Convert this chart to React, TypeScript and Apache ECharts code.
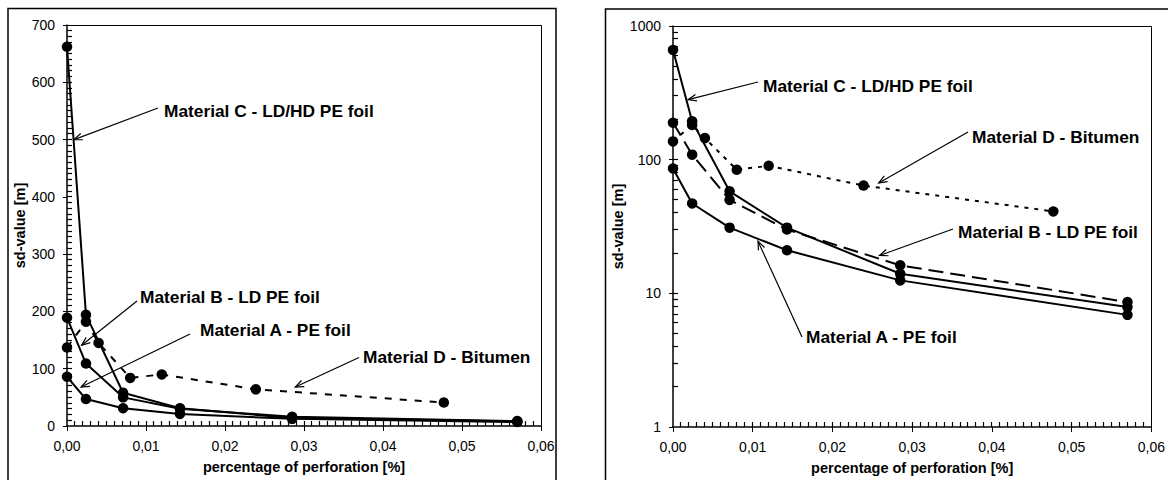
import React, { useEffect, useRef } from "react";
import * as echarts from "echarts";

// ---- data ----
const percA = [0, 0.0024, 0.0071, 0.0143, 0.0285, 0.057];
const sdA = [86, 47, 31, 21, 12.5, 6.9];
const percB = [0, 0.0024, 0.0071, 0.0143, 0.0285, 0.057];
const sdB = [189, 109, 50, 30, 16.2, 8.6];
const percC = [0, 0.0024, 0.0071, 0.0143, 0.0285, 0.057];
const sdC = [662, 194, 58, 31, 14, 7.9];
const percD = [0, 0.0024, 0.004, 0.008, 0.012, 0.0239, 0.0477];
const sdD = [137, 182, 145, 84, 90, 64, 41];

const seriesNames = [
  "Material A - PE foil",
  "Material B - LD PE foil",
  "Material C - LD/HD PE foil",
  "Material D - Bitumen",
];
const xTitle = "percentage of perforation [%]";
const yTitle = "sd-value [m]";

// axis scales
const xMin = 0, xMax = 0.06, xStep = 0.01, xMinorSplit = 10;
const linMin = 0, linMax = 700, linStep = 100, linMinorSplit = 10;
const logMin = 1, logMax = 1000;
const logMinorTicks = [2, 3, 4, 5, 6, 7, 8, 9, 10, 20, 30, 40, 50, 60, 70, 80, 90, 100, 200, 300, 400, 500, 600, 700, 800, 900];

// annotation tips in data coordinates [x, y] for each chart (left linear, right log)
const tipsLin = [
  [0.00178, 68],
  [0.00186, 141],
  [0.00089, 500],
  [0.0289, 68],
];
const tipsLog = [
  [0.01066, 24.5],
  [0.0259, 19.2],
  [0.0019, 281],
  [0.0258, 67],
];

const pairs = (xs: number[], ys: number[]) => xs.map((x, i) => [x, ys[i]]);

const FONT = '"Liberation Sans", Arial, Helvetica, sans-serif';
const BLACK = "#000";

export default function App() {
  const ref = useRef<HTMLDivElement>(null);

  useEffect(() => {
    if (!ref.current) return;
    const chart = echarts.init(ref.current, undefined, { renderer: "svg" });

    const fmtX = (v: number) => v.toFixed(2).replace(".", ",");
    const lbl = { color: BLACK, fontFamily: FONT, fontSize: 14 };
    const nameStyle = { color: BLACK, fontFamily: FONT, fontSize: 14.5, fontWeight: "bold" as const };
    const line = { show: true, lineStyle: { color: BLACK, width: 1.5 } };
    const tickLine = { color: BLACK, width: 1 };

    const mainX = (gi: number) => ({
      gridIndex: gi,
      type: "value",
      min: xMin,
      max: xMax,
      interval: xStep,
      position: "bottom",
      axisLine: line,
      axisTick: { show: true, inside: false, length: 5, lineStyle: tickLine },
      axisLabel: { ...lbl, margin: 13, formatter: fmtX },
      splitLine: { show: false },
      name: xTitle,
      nameLocation: "middle",
      nameGap: 33,
      nameTextStyle: nameStyle,
    });

    const series: any[] = [];
    const mk = (name: string, data: number[][], xi: number, yi: number, type: any) => ({
      name,
      type: "line",
      xAxisIndex: xi,
      yAxisIndex: yi,
      data,
      symbol: "circle",
      symbolSize: 10.5,
      clip: false,
      itemStyle: { color: BLACK },
      lineStyle: { color: BLACK, width: 2, type },
      z: 3,
    });
    // left (linear)
    series.push(mk(seriesNames[0], pairs(percA, sdA), 0, 0, "solid"));
    series.push(mk(seriesNames[1], pairs(percB, sdB), 0, 0, "solid"));
    series.push(mk(seriesNames[2], pairs(percC, sdC), 0, 0, "solid"));
    series.push(mk(seriesNames[3], pairs(percD, sdD), 0, 0, [7, 8]));
    // right (log)
    series.push(mk(seriesNames[0], pairs(percA, sdA), 1, 1, "solid"));
    series.push(mk(seriesNames[1], pairs(percB, sdB), 1, 1, [15, 7]));
    series.push(mk(seriesNames[2], pairs(percC, sdC), 1, 1, "solid"));
    series.push(mk(seriesNames[3], pairs(percD, sdD), 1, 1, [4, 6]));

    chart.setOption({
      animation: false,
      backgroundColor: "#fff",
      textStyle: { fontFamily: FONT },
      grid: [
        { left: 67, top: 25, width: 474, height: 401, show: false },
        { left: 673, top: 26, width: 480, height: 401, show: false },
      ],
      xAxis: [mainX(0), mainX(1)],
      yAxis: [
        {
          gridIndex: 0,
          type: "value",
          min: linMin,
          max: linMax,
          interval: linStep,
          position: "left",
          axisLine: line,
          axisTick: { show: true, inside: false, length: 4, lineStyle: tickLine },
          axisLabel: { ...lbl, margin: 12 },
          splitLine: { show: false },
          name: yTitle,
          nameLocation: "middle",
          nameGap: 38,
          nameTextStyle: nameStyle,
        },
        {
          gridIndex: 1,
          type: "log",
          logBase: 10,
          min: logMin,
          max: logMax,
          position: "left",
          axisLine: line,
          axisTick: { show: true, inside: false, length: 4, lineStyle: tickLine },
          axisLabel: { ...lbl, margin: 12, formatter: (v: number) => String(Math.round(v)) },
          splitLine: { show: false },
          name: yTitle,
          nameLocation: "middle",
          nameGap: 38,
          nameTextStyle: nameStyle,
        },
      ],
      series,
    });

    const graphics: any[] = [
      { type: "rect", shape: { x: 8, y: 8.5, width: 548, height: 520 }, style: { fill: "none", stroke: BLACK, lineWidth: 1.5 }, z: 10 },
      { type: "rect", shape: { x: 605.5, y: 9, width: 600, height: 520 }, style: { fill: "none", stroke: BLACK, lineWidth: 1.5 }, z: 10 },
    ];
    const px = (ai: number, pt: number[]) =>
      chart.convertToPixel({ xAxisIndex: ai, yAxisIndex: ai } as any, pt) as number[];
    const half = (v: number) => Math.round(v - 0.5) + 0.5;

    // plot-area border (top and right edges) + inside minor ticks, positioned through the axes
    const frameAndTicks = (ai: number, yLo: number, yHi: number, yMinorVals: number[]) => {
      const tl = px(ai, [xMin, yHi]);
      const br = px(ai, [xMax, yLo]);
      graphics.push({
        type: "polyline",
        shape: { points: [[tl[0], half(tl[1])], [half(br[0]), half(tl[1])], [half(br[0]), br[1]]] },
        style: { stroke: BLACK, lineWidth: 1, fill: "none" },
        z: 11,
      });
      const nX = Math.round((xMax - xMin) / xStep) * xMinorSplit;
      const yAxisPix = Math.round(br[1]);
      for (let k = 1; k < nX; k++) {
        const v = xMin + (k * xStep) / xMinorSplit;
        const x = half(px(ai, [v, yLo])[0]);
        graphics.push({
          type: "rect",
          shape: { x: x - 0.6, y: yAxisPix - 5, width: 1.2, height: 5 },
          style: { fill: BLACK, stroke: "none" },
          z: 11,
        });
      }
      const xAxisPix = Math.round(tl[0]);
      yMinorVals.forEach((v) => {
        const y = half(px(ai, [xMin, v])[1]);
        graphics.push({
          type: "rect",
          shape: { x: xAxisPix, y: y - 0.6, width: 5, height: 1.2 },
          style: { fill: BLACK, stroke: "none" },
          z: 11,
        });
      });
    };
    const linMinorVals: number[] = [];
    const nLin = Math.round((linMax - linMin) / linStep) * linMinorSplit;
    for (let k = 1; k < nLin; k++) linMinorVals.push(linMin + (k * linStep) / linMinorSplit);
    frameAndTicks(0, linMin, linMax, linMinorVals);
    frameAndTicks(1, logMin, logMax, logMinorTicks);

    // annotation layout (pixel positions of text start and arrow tail)
    const layoutLin = [
      { tx: 200, ty: 331, ax: 190, ay: 334 },
      { tx: 140, ty: 298, ax: 137, ay: 301 },
      { tx: 164, ty: 112, ax: 158, ay: 108 },
      { tx: 363, ty: 358, ax: 359, ay: 357.5 },
    ];
    const layoutLog = [
      { tx: 806, ty: 338, ax: 802, ay: 337 },
      { tx: 958, ty: 233, ax: 953, ay: 229 },
      { tx: 763, ty: 87, ax: 758, ay: 82 },
      { tx: 972, ty: 138, ax: 968, ay: 132 },
    ];

    const addAnno = (lay: any[], tips: number[][], ai: number) => {
      lay.forEach((l, i) => {
        const p = px(ai, tips[i]);
        const tip = { x: p[0], y: p[1] };
        const ang = Math.atan2(l.ay - tip.y, l.ax - tip.x);
        const L = 9;
        const a1 = ang + 0.38;
        const a2 = ang - 0.38;
        graphics.push({
          type: "line",
          shape: { x1: l.ax, y1: l.ay, x2: tip.x, y2: tip.y },
          style: { stroke: BLACK, lineWidth: 1.2 },
          z: 10,
        });
        graphics.push({
          type: "polyline",
          shape: {
            points: [
              [tip.x + L * Math.cos(a1), tip.y + L * Math.sin(a1)],
              [tip.x, tip.y],
              [tip.x + L * Math.cos(a2), tip.y + L * Math.sin(a2)],
            ],
          },
          style: { stroke: BLACK, lineWidth: 1.2, fill: "none" },
          z: 10,
        });
        graphics.push({
          type: "text",
          x: l.tx,
          y: l.ty,
          scaleX: 1.05,
          style: {
            text: seriesNames[i],
            x: 0,
            y: 0,
            fill: BLACK,
            font: `bold 16.5px ${FONT}`,
            textAlign: "left",
            textVerticalAlign: "middle",
          },
          z: 10,
        });
      });
    };
    addAnno(layoutLin, tipsLin, 0);
    addAnno(layoutLog, tipsLog, 1);

    chart.setOption({ graphic: graphics });

    return () => chart.dispose();
  }, []);

  return (
    <div
      ref={ref}
      style={{ position: "fixed", left: 0, top: 0, width: 1168, height: 480, background: "#fff" }}
    />
  );
}
